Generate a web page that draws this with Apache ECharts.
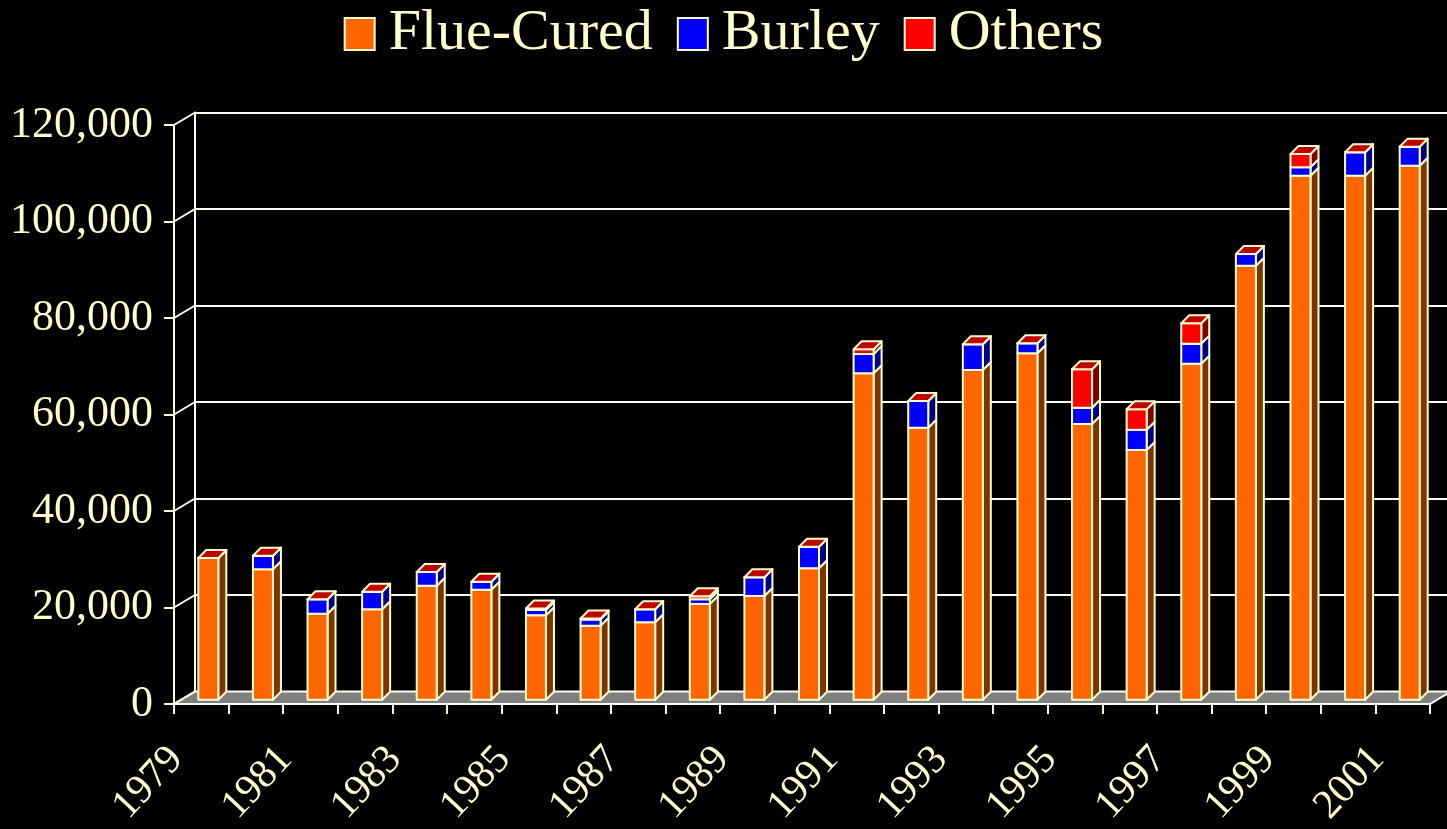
<!DOCTYPE html>
<html>
<head>
<meta charset="utf-8">
<script src="https://cdn.jsdelivr.net/npm/echarts@6/dist/echarts.min.js"></script>
<style>
html,body{margin:0;padding:0;background:#000;}
#chart{width:1447px;height:829px;}
</style>
</head>
<body>
<div id="chart"></div>
<script>
// ---- data ----
const years = ['1979','1980','1981','1982','1983','1984','1985','1986','1987','1988','1989','1990','1991','1992','1993','1994','1995','1996','1997','1998','1999','2000','2001'];
const flueCured = [29400, 27050, 17850, 18760, 23650, 22820, 17510, 15360, 16060, 19850, 21510, 27250, 67670, 56400, 68350, 71810, 57160, 51770, 69660, 89970, 108620, 108620, 110700];
const burley    = [0, 2820, 2980, 3650, 2840, 1660, 1100, 1300, 2690, 1000, 3880, 4480, 4000, 5530, 5330, 2070, 3380, 4210, 4150, 2420, 1740, 4850, 3940];
const others    = [0, 0, 0, 0, 0, 0, 300, 200, 0, 600, 0, 0, 970, 0, 0, 0, 7960, 4230, 4230, 0, 2760, 0, 0];
const yTicks = [0, 20000, 40000, 60000, 80000, 100000, 120000];
const seriesNames = ['Flue-Cured', 'Burley', 'Others'];

// ---- style constants ----
const TXT = '#FFFFCC';
const FONT = "'Liberation Serif','Times New Roman',serif";
const WALL_DX = 21, WALL_DY = -12.5;   // depth of floor / back wall
const PLANE_DX = 7, PLANE_DY = -4.2;   // bars sit one third into the depth
const BAR_W = 20, BAR_DX = 8, BAR_DY = -8;
const STROKE = 2;

function fmt(v){ return String(v).replace(/\B(?=(\d{3})+(?!\d))/g, ','); }

// stacked segment data built from the arrays
function segData(vals, bases){
  return vals.map((v,i)=>[i, bases[i], bases[i]+v]);
}
const base0 = flueCured.map(()=>0);
const base1 = flueCured.slice();
const base2 = flueCured.map((v,i)=>v+burley[i]);

function barRender(front, side, topCol){
  return function(params, api){
    const idx = api.value(0), b = api.value(1), t = api.value(2);
    const pb = api.coord([idx, b]);
    const pt = api.coord([idx, t]);
    const cx = pb[0] + PLANE_DX;
    const yb = pb[1] + PLANE_DY;
    const yt = pt[1] + PLANE_DY;
    const xl = cx - BAR_W/2, xr = cx + BAR_W/2;
    const st = {stroke: TXT, lineWidth: STROKE, lineJoin: 'round'};
    const children = [
      {type:'polygon', shape:{points:[[xr,yt],[xr+BAR_DX,yt+BAR_DY],[xr+BAR_DX,yb+BAR_DY],[xr,yb]]}, style:Object.assign({fill:side}, st)},
      {type:'rect', shape:{x:xl, y:yt, width:BAR_W, height:Math.max(0,yb-yt)}, style:Object.assign({fill:front}, st)}
    ];
    if (topCol){
      children.push({type:'polygon', shape:{points:[[xl,yt],[xl+BAR_DX,yt+BAR_DY],[xr+BAR_DX,yt+BAR_DY],[xr,yt]]}, style:Object.assign({fill:topCol}, st)});
    }
    return {type:'group', children};
  };
}

const chart = echarts.init(document.getElementById('chart'));
const option = {
  backgroundColor: '#000',
  animation: false,
  legend: {
    top: 0,
    left: 'center',
    itemWidth: 30,
    itemHeight: 32,
    itemGap: 24,
    icon: 'rect',
    textStyle: {color: TXT, fontFamily: FONT, fontSize: 58, padding: [0,0,0,9]},
    data: [
      {name:'Flue-Cured', itemStyle:{color:'#FF6600', borderColor:TXT, borderWidth:2}},
      {name:'Burley', itemStyle:{color:'#0000FF', borderColor:TXT, borderWidth:2}},
      {name:'Others', itemStyle:{color:'#FF0000', borderColor:TXT, borderWidth:2}}
    ]
  },
  grid: [
    {left:174, right:17, top:125, bottom:125},                 // front plane
    {left:174+WALL_DX, right:17-WALL_DX, top:125+WALL_DY, bottom:125-WALL_DY}, // back wall
    {left:149, right:42, top:137, bottom:113}                  // label plane
  ],
  xAxis: [
    {type:'category', gridIndex:0, data:years, boundaryGap:true,
     axisLine:{show:true, lineStyle:{color:TXT, width:2}},
     axisTick:{show:true, length:10, lineStyle:{color:TXT, width:2}},
     axisLabel:{show:false}, splitLine:{show:false}},
    {type:'category', gridIndex:1, data:years,
     axisLine:{show:true, lineStyle:{color:'#FFFFF4', width:2}},
     axisTick:{show:false}, axisLabel:{show:false}, splitLine:{show:false}},
    {type:'category', gridIndex:2, data:years,
     axisLine:{show:false}, axisTick:{show:false},
     axisLabel:{show:true, interval:1, rotate:47, color:TXT, fontFamily:FONT, fontSize:41, margin:60}}
  ],
  yAxis: [
    {type:'value', gridIndex:0, min:0, max:120000, interval:20000,
     axisLine:{show:true, lineStyle:{color:TXT, width:2}},
     axisTick:{show:true, length:10, lineStyle:{color:TXT, width:2}},
     axisLabel:{show:true, color:TXT, fontFamily:FONT, fontSize:44, margin:21, formatter:fmt},
     splitLine:{show:false}},
    {type:'value', gridIndex:1, min:0, max:120000, interval:20000,
     axisLine:{show:true, lineStyle:{color:'#FFFFF4', width:2}},
     axisTick:{show:false}, axisLabel:{show:false},
     splitLine:{show:true, lineStyle:{color:'#FFFFF4', width:2}}},
    {type:'value', gridIndex:2, min:0, max:120000, show:false}
  ],
  series: [
    { // floor
      type:'custom', xAxisIndex:0, yAxisIndex:0, z:1, silent:true,
      data:[[0,0]],
      renderItem:function(params, api){
        const cs = params.coordSys;
        const y0 = api.coord([0,0])[1];
        const x0 = cs.x, x1 = cs.x + cs.width;
        return {type:'polygon', shape:{points:[[x0,y0],[x1,y0],[x1+WALL_DX,y0+WALL_DY],[x0+WALL_DX,y0+WALL_DY]]},
                style:{fill:'#808080', stroke:'#FFFFF4', lineWidth:2}};
      }
    },
    { // diagonal connectors from front axis ticks to the back wall
      type:'custom', xAxisIndex:0, yAxisIndex:0, z:2, silent:true,
      data: yTicks.map(v=>[0,v]),
      renderItem:function(params, api){
        const cs = params.coordSys;
        const y = api.coord([0, api.value(1)])[1];
        return {type:'line', shape:{x1:cs.x, y1:y, x2:cs.x+WALL_DX, y2:y+WALL_DY}, style:{stroke:'#FFFFF4', lineWidth:2}};
      }
    },
    {name:'Flue-Cured', type:'custom', xAxisIndex:0, yAxisIndex:0, z:3,
     itemStyle:{color:'#FF6600'}, data:segData(flueCured, base0), renderItem:barRender('#FF6600','#7F3300',null)},
    {name:'Burley', type:'custom', xAxisIndex:0, yAxisIndex:0, z:4,
     itemStyle:{color:'#0000FF'}, data:segData(burley, base1), renderItem:barRender('#0000FF','#000080',null)},
    {name:'Others', type:'custom', xAxisIndex:0, yAxisIndex:0, z:5,
     itemStyle:{color:'#FF0000'}, data:segData(others, base2), renderItem:barRender('#FF0000','#800000','#C00000')}
  ]
};
chart.setOption(option);
</script>
</body>
</html>
